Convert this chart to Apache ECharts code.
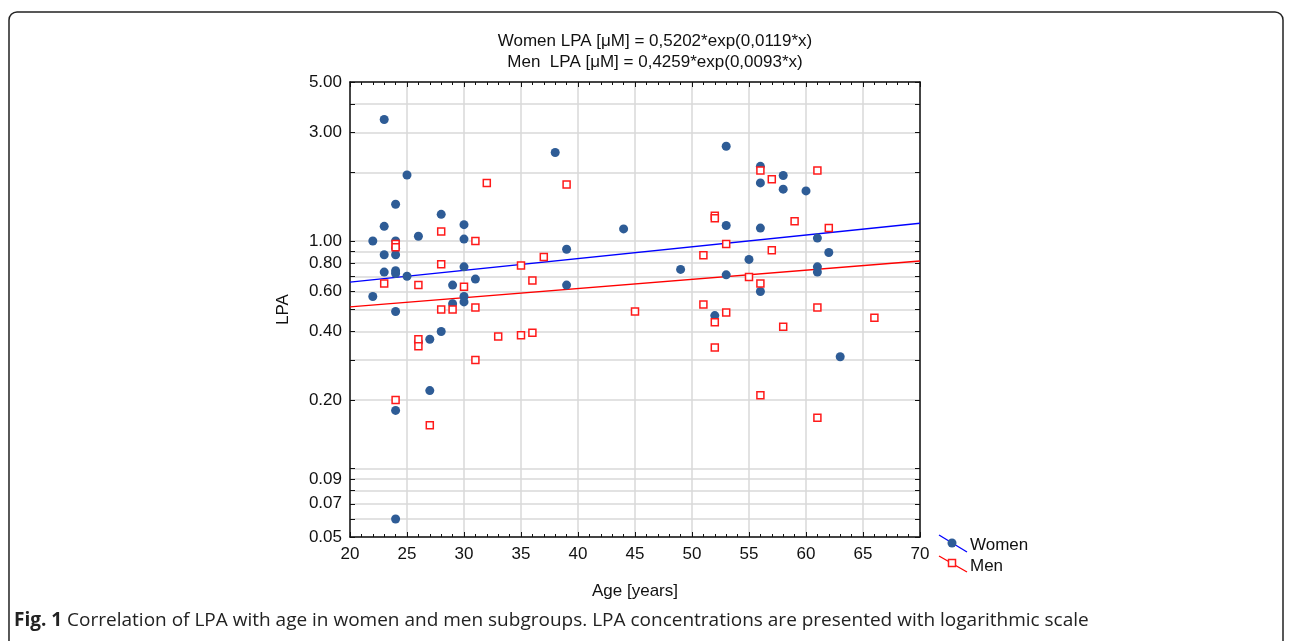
<!DOCTYPE html>
<html>
<head>
<meta charset="utf-8">
<script src="https://cdn.jsdelivr.net/npm/echarts@6/dist/echarts.min.js"></script>
<style>
  html, body { margin: 0; padding: 0; background: #fff; }
  #chart { width: 1292px; height: 641px; }
</style>
</head>
<body>
<div id="chart"></div>
<script>
// Women: [age, LPA]
const women = [
  [22, 1.00], [22, 0.57],
  [23, 3.42], [23, 1.16], [23, 0.87], [23, 0.73],
  [24, 1.45], [24, 1.00], [24, 0.93], [24, 0.87], [24, 0.74], [24, 0.72], [24, 0.49], [24, 0.18], [24, 0.06],
  [25, 1.95], [25, 0.70],
  [26, 1.05], [26, 0.36],
  [27, 0.37], [27, 0.22],
  [28, 1.31], [28, 0.40],
  [29, 0.64], [29, 0.53],
  [30, 1.18], [30, 1.02], [30, 0.77], [30, 0.57], [30, 0.54],
  [31, 0.68],
  [38, 2.45],
  [39, 0.92], [39, 0.64],
  [44, 1.13],
  [49, 0.75],
  [52, 0.47],
  [53, 2.61], [53, 1.17], [53, 0.71],
  [55, 0.83],
  [56, 2.13], [56, 1.80], [56, 1.14], [56, 0.60],
  [58, 1.94], [58, 1.69],
  [60, 1.66],
  [61, 1.03], [61, 0.77], [61, 0.73],
  [62, 0.89],
  [63, 0.31]
];
// Men: [age, LPA]
const men = [
  [23, 0.65],
  [24, 0.97], [24, 0.94], [24, 0.20],
  [26, 0.64], [26, 0.37], [26, 0.345],
  [27, 0.155],
  [28, 1.10], [28, 0.79], [28, 0.50],
  [29, 0.50],
  [30, 0.63],
  [31, 1.00], [31, 0.51], [31, 0.30],
  [32, 1.80],
  [33, 0.38],
  [35, 0.78], [35, 0.385],
  [36, 0.67], [36, 0.395],
  [37, 0.85],
  [39, 1.77],
  [45, 0.49],
  [51, 0.865], [51, 0.526],
  [52, 1.29], [52, 1.26], [52, 0.44], [52, 0.34],
  [53, 0.97], [53, 0.485],
  [55, 0.695],
  [56, 2.04], [56, 0.65], [56, 0.21],
  [57, 1.87], [57, 0.91],
  [58, 0.42],
  [59, 1.22],
  [61, 2.04], [61, 0.51], [61, 0.167],
  [62, 1.14],
  [66, 0.46]
];
// fitted curves, end points (straight on log scale)
const fitAges = [20, 70];
const womenFit = [0.66, 1.197];
const menFit = [0.513, 0.817];

const yGridValues = [5, 4, 3, 2, 1, 0.9, 0.8, 0.7, 0.6, 0.5, 0.4, 0.3, 0.2, 0.1, 0.09, 0.08, 0.07, 0.06, 0.05];
const yLabelValues = [5, 3, 1, 0.8, 0.6, 0.4, 0.2, 0.09, 0.07, 0.05];

const chart = echarts.init(document.getElementById('chart'));
const font = "'Liberation Sans', Arial, sans-serif";

const option = {
  animation: false,
  textStyle: { fontFamily: font },
  title: {
    text: 'Women LPA [μM] = 0,5202*exp(0,0119*x)\nMen  LPA [μM] = 0,4259*exp(0,0093*x)',
    left: 650, top: 26, textAlign: 'center',
    textStyle: { fontSize: 17, fontWeight: 'normal', color: '#111', lineHeight: 21, fontFamily: font }
  },
  grid: { left: 350, right: 372, top: 82, bottom: 104 },
  xAxis: [{
    type: 'value', min: 20, max: 70, interval: 5,
    name: 'Age [years]', nameLocation: 'middle', nameGap: 46,
    nameTextStyle: { fontSize: 17, color: '#111', fontFamily: font },
    axisLine: { lineStyle: { color: '#111', width: 1.5 } },
    axisTick: { inside: true, length: 5, lineStyle: { color: '#111' } },
    minorTick: { show: true, splitNumber: 5, length: 3, lineStyle: { color: '#111' } },
    axisLabel: { fontSize: 17, color: '#111', margin: 9, fontFamily: font },
    splitLine: { show: true, lineStyle: { color: '#d9d9d9', width: 1.5 } }
  }, {
    type: 'value', min: 20, max: 70, interval: 5, position: 'top',
    axisLine: { lineStyle: { color: '#111', width: 1.5 } },
    axisTick: { inside: true, length: 5, lineStyle: { color: '#111' } },
    minorTick: { show: true, splitNumber: 5, length: 3, lineStyle: { color: '#111' } },
    axisLabel: { show: false },
    splitLine: { show: false }
  }],
  yAxis: [{
    type: 'log', logBase: 10, min: 0.05, max: 5,
    name: 'LPA', nameLocation: 'middle', nameGap: 58, nameRotate: 90,
    nameTextStyle: { fontSize: 17, color: '#111', fontFamily: font },
    axisLine: { lineStyle: { color: '#111', width: 1.5 } },
    axisTick: { inside: true, length: 5, customValues: yGridValues, lineStyle: { color: '#111' } },
    axisLabel: {
      fontSize: 17, color: '#111', margin: 8, customValues: yLabelValues, fontFamily: font,
      formatter: v => Number(v).toFixed(2)
    },
    splitLine: { show: true, lineStyle: { color: '#d9d9d9', width: 1.5 } }
  }, {
    type: 'log', logBase: 10, min: 0.05, max: 5, position: 'right',
    axisLine: { lineStyle: { color: '#111', width: 1.5 } },
    axisTick: { inside: true, length: 5, customValues: yGridValues, lineStyle: { color: '#111' } },
    axisLabel: { show: false },
    splitLine: { show: false }
  }],
  series: [
    {
      name: 'Women fit', type: 'line', symbol: 'none', silent: true,
      data: fitAges.map((a, i) => [a, womenFit[i]]),
      lineStyle: { color: '#0000ff', width: 1.3 }, z: 3
    },
    {
      name: 'Men fit', type: 'line', symbol: 'none', silent: true,
      data: fitAges.map((a, i) => [a, menFit[i]]),
      lineStyle: { color: '#ff0000', width: 1.3 }, z: 3
    },
    {
      name: 'Women', type: 'scatter', symbol: 'circle', symbolSize: 9,
      data: women, itemStyle: { color: '#2e5c96', opacity: 1 }, z: 4
    },
    {
      name: 'Men', type: 'scatter', symbol: 'rect', symbolSize: 7,
      data: men, itemStyle: { color: '#fff', borderColor: '#ff1a1a', borderWidth: 1.5, opacity: 1 }, z: 5
    }
  ],
  graphic: [
    {
      type: 'rect', shape: { x: 9, y: 12, width: 1274, height: 700, r: 8 },
      style: { fill: 'none', stroke: '#222', lineWidth: 1.5 }, silent: true
    },
    // legend
    { type: 'line', shape: { x1: 939, y1: 535, x2: 967, y2: 552 }, style: { stroke: '#0000ff', lineWidth: 1.3 } },
    { type: 'circle', shape: { cx: 952, cy: 543, r: 4.5 }, style: { fill: '#2e5c96' } },
    { type: 'text', x: 970, y: 545, style: { text: 'Women', font: '17px ' + font, fill: '#111', verticalAlign: 'middle' } },
    { type: 'line', shape: { x1: 939, y1: 556, x2: 967, y2: 572 }, style: { stroke: '#ff0000', lineWidth: 1.3 } },
    { type: 'rect', shape: { x: 948.5, y: 559.5, width: 7, height: 7 }, style: { fill: '#fff', stroke: '#ff1a1a', lineWidth: 1.5 } },
    { type: 'text', x: 970, y: 566, style: { text: 'Men', font: '17px ' + font, fill: '#111', verticalAlign: 'middle' } },
    // caption
    {
      type: 'text', x: 14, y: 621,
      style: {
        text: '{b|Fig. 1} Correlation of LPA with age in women and men subgroups. LPA concentrations are presented with logarithmic scale',
        font: '19px "Open Sans", sans-serif', fill: '#222', verticalAlign: 'middle',
        rich: {
          b: { font: 'bold 19px "Open Sans", sans-serif', fill: '#222' }
        }
      }
    }
  ]
};
chart.setOption(option);
</script>
</body>
</html>
